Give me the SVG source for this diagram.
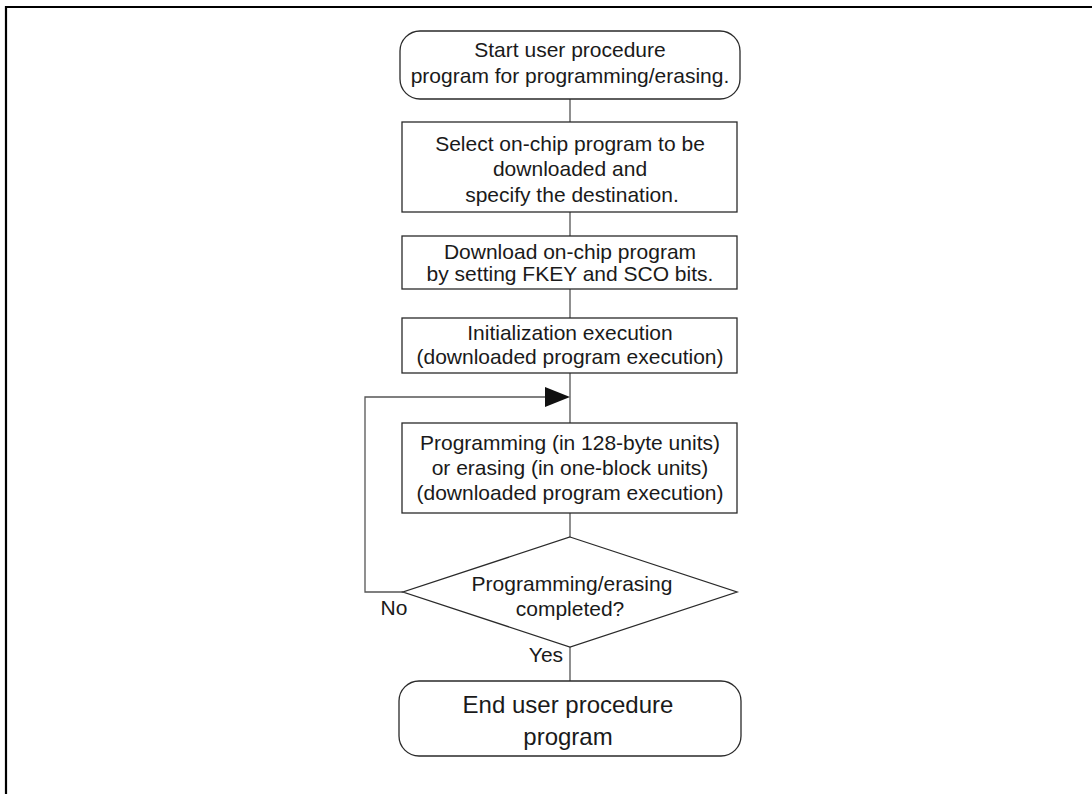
<svg xmlns="http://www.w3.org/2000/svg" width="1092" height="794" viewBox="0 0 1092 794">
<style>
.box{fill:#fff;stroke:#2a2a2a;stroke-width:1.3}
.ln{fill:none;stroke:#555;stroke-width:1.3}
text{font-family:"Liberation Sans",Arial,sans-serif;font-size:21px;fill:#1a1a1a;text-anchor:middle}
.big{font-size:24px}
</style>
<rect width="1092" height="794" fill="#fff"/>
<path d="M6,794 V7 H1092" fill="none" stroke="#000" stroke-width="2.2"/>
<g id="connectors">
<path class="ln" d="M570,99 V122 M570,212 V236 M570,289 V318 M570,373 V423 M570,513 V537 M570,647 V681"/>
<path class="ln" d="M403,592 H365 V397 H548"/>
<polygon points="545,387 570,397 545,407" fill="#111"/>
</g>
<g id="start">
<rect class="box" x="400" y="31" width="340" height="68" rx="20"/>
<text x="570" y="57">Start user procedure</text>
<text x="570" y="83">program for programming/erasing.</text>
</g>
<g id="select">
<rect class="box" x="402" y="122" width="335" height="90"/>
<text x="570" y="151">Select on-chip program to be</text>
<text x="570" y="176">downloaded and</text>
<text x="572" y="202">specify the destination.</text>
</g>
<g id="download">
<rect class="box" x="402" y="236" width="335" height="53"/>
<text x="570" y="259">Download on-chip program</text>
<text x="570" y="281">by setting FKEY and SCO bits.</text>
</g>
<g id="init">
<rect class="box" x="402" y="318" width="335" height="55"/>
<text x="570" y="340">Initialization execution</text>
<text x="570" y="364">(downloaded program execution)</text>
</g>
<g id="program">
<rect class="box" x="402" y="423" width="335" height="90"/>
<text x="570" y="450">Programming (in 128-byte units)</text>
<text x="570" y="475">or erasing (in one-block units)</text>
<text x="570" y="500">(downloaded program execution)</text>
</g>
<g id="decision">
<polygon class="box" points="570,537 737,592 570,647 403,592"/>
<text x="572" y="591">Programming/erasing</text>
<text x="570" y="616">completed?</text>
<text x="394" y="615">No</text>
<text x="546" y="662">Yes</text>
</g>
<g id="end">
<rect class="box" x="399" y="681" width="342" height="75" rx="20"/>
<text class="big" x="568" y="713">End user procedure</text>
<text class="big" x="568" y="745">program</text>
</g>
</svg>
